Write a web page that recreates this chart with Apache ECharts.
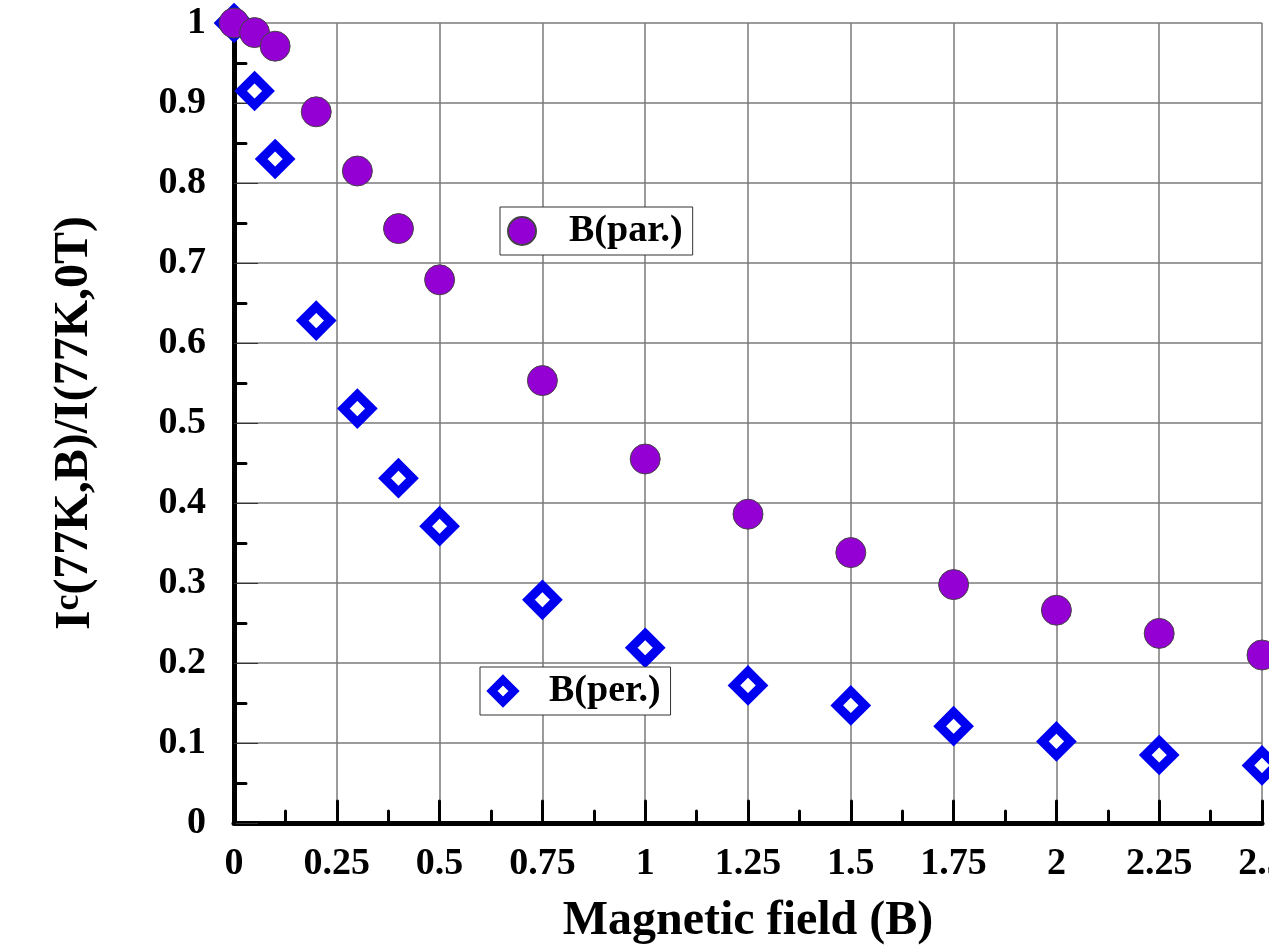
<!DOCTYPE html>
<html lang="en">
<head>
    <meta charset="UTF-8">
    <title>Ic vs magnetic field</title>
    <script src="https://cdn.jsdelivr.net/npm/echarts@6/dist/echarts.min.js"></script>
    <style>
        html, body { margin: 0; padding: 0; background: #fff; }
        #chart { width: 1269px; height: 949px; }
    </style>
</head>
<body>
    <div id="chart"></div>
    <script>
        // magnetic field values (x)
        var fieldB = [0, 0.05, 0.1, 0.2, 0.3, 0.4, 0.5, 0.75, 1, 1.25, 1.5, 1.75, 2, 2.25, 2.5];
        // normalised Ic, field parallel
        var parValues = [1.0, 0.988, 0.971, 0.889, 0.815, 0.743, 0.679, 0.553, 0.455, 0.386, 0.338, 0.298, 0.266, 0.237, 0.21];
        // normalised Ic, field perpendicular
        var perValues = [1.0, 0.915, 0.83, 0.628, 0.518, 0.431, 0.371, 0.279, 0.219, 0.172, 0.147, 0.121, 0.102, 0.085, 0.072];
        var seriesNames = ['B(par.)', 'B(per.)'];

        var font = 'Liberation Serif';

        function pairs(xs, ys) {
            return xs.map(function (x, i) { return [x, ys[i]]; });
        }

        var chart = echarts.init(document.getElementById('chart'));
        var option = {
            backgroundColor: '#fff',
            animation: false,
            grid: { left: 234, right: 7, top: 23, bottom: 126, outerBoundsMode: 'none' },
            legend: [
                {
                    data: [seriesNames[0]],
                    left: 500, top: 207,
                    padding: [5, 10, 5, 7],
                    itemWidth: 28, itemHeight: 28,
                    borderColor: '#333', borderWidth: 1,
                    backgroundColor: '#fff',
                    textStyle: { fontFamily: font, fontWeight: 'bold', fontSize: 38, color: '#000', lineHeight: 38, padding: [0, 0, 0, 28] }
                },
                {
                    data: [seriesNames[1]],
                    left: 480, top: 667,
                    padding: [5, 10, 5, 8],
                    itemWidth: 22, itemHeight: 22,
                    borderColor: '#333', borderWidth: 1,
                    backgroundColor: '#fff',
                    itemStyle: { borderWidth: 8 },
                    textStyle: { fontFamily: font, fontWeight: 'bold', fontSize: 38, color: '#000', lineHeight: 38, padding: [0, 0, 0, 30] }
                }
            ],
            xAxis: {
                type: 'value',
                min: 0, max: 2.5, interval: 0.25,
                name: 'Magnetic field (B)',
                nameLocation: 'middle',
                nameGap: 75,
                nameTextStyle: { fontFamily: font, fontWeight: 'bold', fontSize: 48, color: '#000' },
                axisLine: { onZero: false, lineStyle: { color: '#000', width: 5 } },
                axisTick: { inside: true, length: 22, lineStyle: { color: '#000', width: 3, cap: 'round' } },
                minorTick: { show: true, splitNumber: 2, length: 12, lineStyle: { color: '#000', width: 3, cap: 'round' } },
                axisLabel: { fontFamily: font, fontWeight: 'bold', fontSize: 38, color: '#000', margin: 22, showMaxLabel: true },
                splitLine: { show: true, lineStyle: { color: '#7a7a7a', width: 1.5 } }
            },
            yAxis: {
                type: 'value',
                min: 0, max: 1, interval: 0.1,
                name: '{I|I}{c|c}{r|(77K,B)/I(77K,0T)}',
                nameLocation: 'middle',
                nameRotate: 90,
                nameGap: 104,
                nameTextStyle: {
                    fontFamily: font, fontWeight: 'bold', fontSize: 48, color: '#000',
                    rich: {
                        I: { fontFamily: font, fontWeight: 'bold', fontSize: 50, lineHeight: 50, verticalAlign: 'top', color: '#000' },
                        c: { fontFamily: font, fontWeight: 'bold', fontSize: 36, lineHeight: 55, verticalAlign: 'top', color: '#000' },
                        r: { fontFamily: font, fontWeight: 'bold', fontSize: 48, lineHeight: 79, verticalAlign: 'top', color: '#000' }
                    }
                },
                axisLine: { onZero: false, lineStyle: { color: '#000', width: 5 } },
                axisTick: { inside: true, length: 24, lineStyle: { color: '#333', width: 1 } },
                minorTick: { show: true, splitNumber: 2, length: 12, lineStyle: { color: '#000', width: 3, cap: 'round' } },
                axisLabel: { fontFamily: font, fontWeight: 'bold', fontSize: 38, color: '#000', margin: 28 },
                splitLine: { show: true, lineStyle: { color: '#7a7a7a', width: 1.5 } }
            },
            series: [
                {
                    name: seriesNames[1],
                    type: 'scatter',
                    clip: false,
                    symbol: 'diamond',
                    symbolSize: 28,
                    z: 2,
                    itemStyle: { color: '#fff', borderColor: '#0000f0', borderWidth: 9, opacity: 1 },
                    data: pairs(fieldB, perValues)
                },
                {
                    name: seriesNames[0],
                    type: 'scatter',
                    clip: false,
                    symbol: 'circle',
                    symbolSize: 30,
                    z: 3,
                    itemStyle: { color: '#9400d3', borderColor: '#444', borderWidth: 1, opacity: 1 },
                    data: pairs(fieldB, parValues)
                }
            ]
        };
        chart.setOption(option);
    </script>
</body>
</html>
